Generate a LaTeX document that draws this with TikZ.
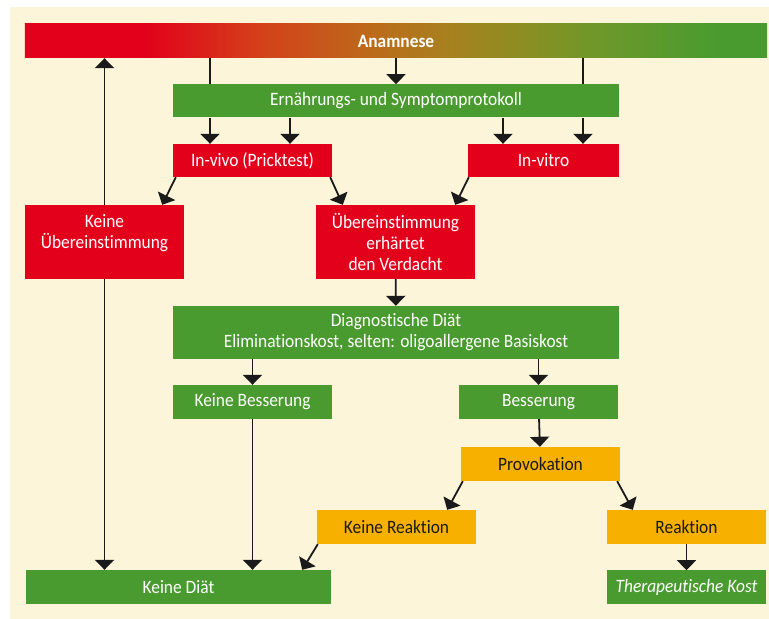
\documentclass[tikz,border=0pt]{standalone}
\usepackage{fontspec}
\setmainfont{Carlito}[FakeStretch=0.92,Ligatures=NoCommon]
\usetikzlibrary{arrows.meta,positioning,calc}
\definecolor{boxred}{HTML}{E2001A}
\definecolor{boxgreen}{HTML}{4A9B2F}
\definecolor{boxorange}{HTML}{F8B000}
\definecolor{paper}{HTML}{FDF5DA}
\definecolor{ink}{HTML}{1A1A1A}
\definecolor{redorange}{HTML}{D4401A}
\definecolor{midorange}{HTML}{BC6A1A}
\definecolor{midbrown}{HTML}{A8801E}
\definecolor{midolive}{HTML}{8C8E22}
\definecolor{midgreen}{HTML}{6E982A}
\pgfdeclarehorizontalshading{anamnese}{100bp}{color(0bp)=(boxred); color(33bp)=(boxred); color(40.8bp)=(redorange); color(48.3bp)=(midorange); color(53.4bp)=(midbrown); color(58.5bp)=(midolive); color(63.6bp)=(midgreen); color(71.5bp)=(boxgreen); color(100bp)=(boxgreen)}
\newcommand\boxfont{\fontsize{18.9bp}{21bp}\selectfont}

\begin{document}
\begin{tikzpicture}[x=1bp,y=-1bp,>={Triangle[width=19bp,length=10bp]},
    every node/.style={inner sep=0pt,text=white,align=center,font=\boxfont},
    box/.style={minimum width=159bp,minimum height=34bp},
    red node/.style={box,fill=boxred},
    green node/.style={box,fill=boxgreen},
    orange node/.style={box,fill=boxorange,text=ink},
    arrow/.style={->,draw=ink,line width=1.8bp},
    link/.style={draw=ink,line width=1.8bp}]

    \fill[paper] (10,7) rectangle (769,619);
    \useasboundingbox (0,0) rectangle (769,619);

    % top rows
    \node[box,shading=anamnese,minimum width=742bp,font=\boxfont\bfseries] (anam) at (396,41) {Anamnese};
    \node[green node,minimum width=446bp,minimum height=33bp] (prot) [below=26bp of anam] {Ernährungs- und Symptomprotokoll};
    \node[red node,minimum height=33bp] (vivo) at (252.5,160.5) {In-vivo (Pricktest)};
    \node[red node,minimum width=151bp,minimum height=33bp] (vitro) at (543.5,160.5) {In-vitro};

    % test results
    \node[red node,minimum height=74bp] (nomatch) at (104.5,242) {Keine\\Übereinstimmung\\\mbox{}};
    \node[red node,minimum height=74bp] (match) at (395.5,242) {Übereinstimmung\\erhärtet\\den Verdacht};

    % diet
    \node[green node,minimum width=446bp,minimum height=53bp] (diag) at (396,332.5) {Diagnostische Diät\\Eliminationskost, selten: oligoallergene Basiskost};
    \node[green node] (nobetter) at (252.5,402) {Keine Besserung};
    \node[green node] (better) at (538.5,402) {Besserung};
    \node[orange node] (prov) at (540.5,464) {Provokation};
    \node[orange node] (noreact) at (396.5,527) {Keine Reaktion};
    \node[orange node] (react) at (686.5,527) {Reaktion};
    \node[green node,font=\boxfont\itshape] (ther) [below=26bp of react] {Therapeutische Kost};
    \node[green node,minimum width=305bp] (nodiet) at (178.5,587) {Keine Diät};

    % connectors
    \foreach \x in {210,583}{
        \draw[link] (\x,0 |- anam.south) -- (\x,0 |- prot.north);
    }
    \draw[arrow] (anam) -- (prot);
    \foreach \x in {210,290}{
        \draw[arrow] (\x,0 |- prot.south) -- (\x,0 |- vivo.north);
    }
    \foreach \x in {503,583}{
        \draw[arrow] (\x,0 |- prot.south) -- (\x,0 |- vitro.north);
    }
    \draw[arrow] ([xshift=3bp]vivo.south west) -- ([xshift=-22bp]nomatch.north east);
    \draw[arrow] ([xshift=-2bp]vivo.south east) -- ([xshift=27bp]match.north west);
    \draw[arrow] ([xshift=1bp]vitro.south west) -- ([xshift=-20bp]match.north east);
    \draw[arrow] (match) -- (diag);
    \draw[arrow] (nobetter.north |- diag.south) -- (nobetter);
    \draw[arrow] (better.north |- diag.south) -- (better);
    \draw[arrow] (better) -- (prov);
    \draw[arrow] ([xshift=2bp]prov.south west) -- ([xshift=-29bp]noreact.north east);
    \draw[arrow] ([xshift=-3bp]prov.south east) -- ([xshift=26bp]react.north west);
    \draw[arrow] (react) -- (ther);
    \draw[arrow] ([xshift=1bp]noreact.south west) -- ([xshift=-29bp]nodiet.north east);
    \draw[arrow] (nobetter) -- (nobetter |- nodiet.north);
    \draw[arrow] (nomatch) -- (nomatch |- anam.south);
    \draw[arrow] (nomatch) -- (nomatch |- nodiet.north);

\end{tikzpicture}
\end{document}
